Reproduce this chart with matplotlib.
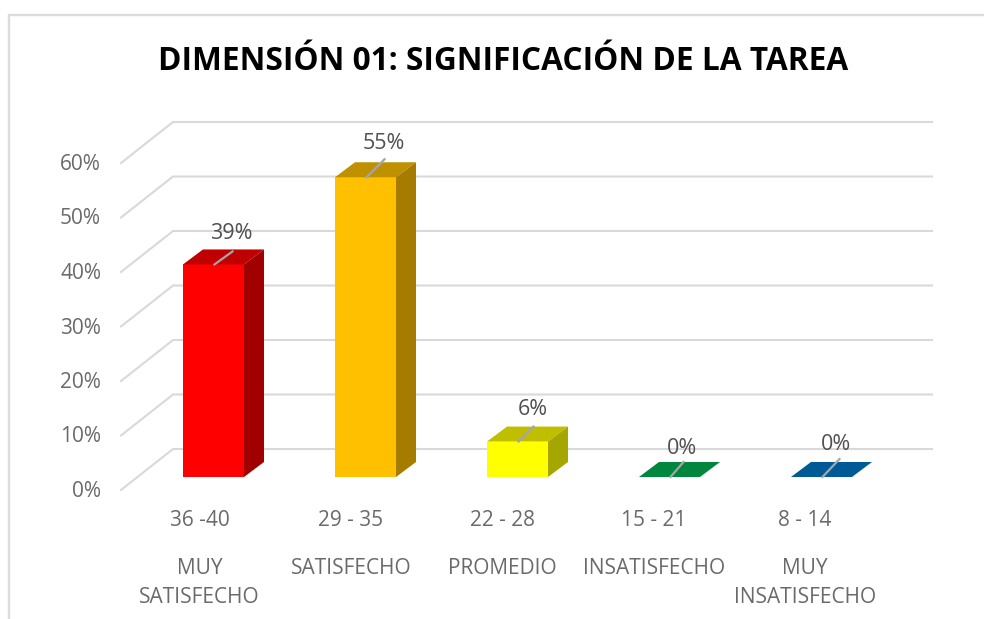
#!/usr/bin/env python3
"""Pseudo-3D column chart drawn with an oblique offset."""

import matplotlib
matplotlib.use('Agg')
import matplotlib.pyplot as plt
from matplotlib.patches import Polygon
from matplotlib.transforms import Affine2D

ranges = ['36 -40', '29 - 35', '22 - 28', '15 - 21', '8 - 14']
levels = ['MUY\nSATISFECHO', 'SATISFECHO', 'PROMEDIO', 'INSATISFECHO', 'MUY\nINSATISFECHO']
values = [0.39, 0.55, 0.065, 0.0, 0.0]
value_labels = ['39%', '55%', '6%', '0%', '0%']
front_colours = ['#ff0000', '#ffc000', '#ffff00', '#00863d', '#005a96']
top_colours = ['#c00000', '#bf9000', '#bfbf00', '#00863d', '#005a96']
side_colours = ['#a00000', '#a67c00', '#a6a600', '#00863d', '#005a96']
y_ticks = [0.0, 0.1, 0.2, 0.3, 0.4, 0.5, 0.6]
y_tick_labels = ['0%', '10%', '20%', '30%', '40%', '50%', '60%']

# leader line (dx, dy) and label offset from top of each bar, in pixels
leader_ends = [(18, 13), (18, 18), (15, 15), (13, 15), (17, 18)]
label_offsets = [(18, 31), (18, 34), (15, 32), (12, 29), (15, 33)]

W, H = 984, 619
TEXT = '#6a6a6a'
GRID = '#d9d9d9'
FONT = 'Open Sans'

# axis scale: one category = 152 px, 100% = 545 px
PX_X, PX_Y = 152.0, 545.0
X0, Y0 = 213.5, 477.0
BAR_W = 61 / PX_X
DX, DY = 20 / PX_X, 15 / PX_Y


def main():
    plt.rcParams['font.family'] = [FONT, 'DejaVu Sans']
    fig = plt.figure(figsize=(W / 100, H / 100), dpi=100, facecolor='white')
    ax = fig.add_axes([0, 0, 1, 1])
    ax.set_xlim(-X0 / PX_X, (W - X0) / PX_X)
    ax.set_ylim((Y0 - H) / PX_Y, Y0 / PX_Y)
    ax.axis('off')

    # pixel coordinates with origin top left, for frame and free text
    pix = Affine2D().scale(1, -1).translate(0, H)

    ax.plot([9, 9, W], [H, 15, 15], color='#dcdcdc', lw=1.7, transform=pix,
            solid_joinstyle='miter', clip_on=False)

    # walls: back plane and left side
    left_front = (121 - X0) / PX_X
    left_back = (173 - X0) / PX_X
    right_back = (932 - X0) / PX_X
    front_drop = -13 / PX_Y
    back_rise = 28 / PX_Y
    for v, lab in zip(y_ticks, y_tick_labels):
        ax.plot([left_front, left_back, right_back],
                [v + front_drop, v + back_rise, v + back_rise],
                color=GRID, lw=1.5, solid_joinstyle='miter', zorder=1)
        ax.text(left_front - 20 / PX_X, v + front_drop - 1.5 / PX_Y, lab,
                ha='right', va='center', color=TEXT, fontsize=15)

    ax.bar(range(len(values)), values, width=BAR_W, color=front_colours, zorder=3)
    for i, v in enumerate(values):
        l, r = i - BAR_W / 2, i + BAR_W / 2
        ax.add_patch(Polygon([(l, v), (l + DX, v + DY), (r + DX, v + DY), (r, v)],
                             closed=True, color=top_colours[i], lw=0, zorder=3))
        if v > 0:
            ax.add_patch(Polygon([(r, 0), (r + DX, DY), (r + DX, v + DY), (r, v)],
                                 closed=True, color=side_colours[i], lw=0, zorder=3))
        ex, ey = leader_ends[i]
        ax.plot([i + 1 / PX_X, i + (1 + ex) / PX_X], [v, v + ey / PX_Y],
                color='#a6a6a6', lw=1.6, zorder=4)
        ox, oy = label_offsets[i]
        ax.annotate(value_labels[i], (i, v), xytext=(ox, oy), textcoords='offset pixels',
                    ha='center', va='center', color='#505050', fontsize=15.5, zorder=5)

    for i in range(len(values)):
        cx = i - (14 + 0.6 * i) / PX_X
        ax.text(cx, -43 / PX_Y, ranges[i], ha='center', va='center',
                color=TEXT, fontsize=15)
        ax.text(cx, -81 / PX_Y, levels[i], ha='center', va='top',
                color=TEXT, fontsize=15, linespacing=1.5)

    ax.text(503, 62, 'DIMENSIÓN 01: SIGNIFICACIÓN DE LA TAREA', transform=pix,
            ha='center', va='center', color='black', fontsize=22.8, fontweight='bold')

    fig.savefig('out.png', dpi=100)


if __name__ == '__main__':
    main()
